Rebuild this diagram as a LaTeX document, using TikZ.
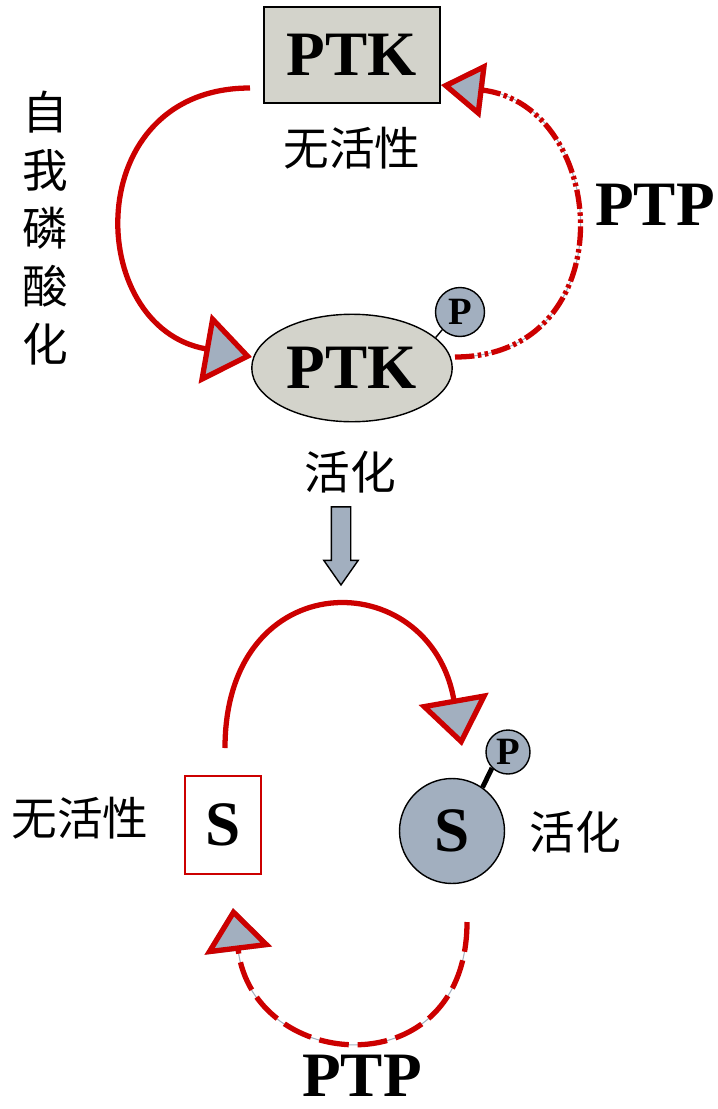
\documentclass[tikz,border=0pt]{standalone}
\usepackage{fontspec}
\setmainfont{Liberation Serif}
\newfontfamily\cjk{Noto Sans CJK SC}
\usetikzlibrary{arrows.meta,shapes.geometric,shapes.arrows}
\definecolor{darkred}{HTML}{CC0000}
\definecolor{bluegray}{HTML}{A2AFBF}
\definecolor{beige}{HTML}{D3D3CB}

\begin{document}
\begin{tikzpicture}[x=0.02cm, y=-0.02cm,
    big/.style = {font=\fontsize{36}{40}\selectfont\bfseries},
    zh/.style = {font=\fontsize{26}{33}\selectfont\cjk},
    phos/.style = {draw, circle, fill=bluegray, inner sep=0pt, line width=0.8pt,
                   font=\fontsize{22}{24}\selectfont\bfseries},
    react/.style = {draw=darkred, line width=3pt,
                    -{Triangle[fill=bluegray, length=9.6mm, width=14mm]}},
    ptp/.style = {draw=darkred, line width=3pt,
                  -{Triangle[fill=bluegray, length=8.6mm, width=#1]},
                  preaction={draw=bluegray, line width=0.6pt, solid}}]
  \useasboundingbox (0,0) rectangle (717,1109);
  % upper cycle
  \node[big, draw, fill=beige, minimum width=35.2mm, minimum height=19.2mm, line width=0.8pt] (1) at (352,55) {PTK};
  \node[zh] (2) at (352,148) {无活性};
  \node[big, draw, ellipse, fill=beige, minimum width=35.2mm, minimum height=21.5mm, line width=0.8pt] (3) at (352,368) {PTK};
  \node[phos, minimum size=9.8mm] (4) at (460,312) {P};
  \node[zh, align=center] (5) at (45,228) {自\\我\\磷\\酸\\化};
  \node[big] (6) at (655,205) {PTP};
  \node[zh] (7) at (350,472) {活化};
  \node[single arrow, draw, fill=bluegray, rotate=-90, line width=0.8pt, inner sep=0pt, inner ysep=1.8mm,
        minimum height=15.6mm, single arrow head extend=1.5mm, single arrow tip angle=70] (8) at (341,539) {};
  % lower cycle
  \node[big, draw=darkred, minimum width=15.2mm, minimum height=19.6mm, line width=0.8pt] (9) at (223,825) {S};
  \node[zh] (10) at (80,818) {无活性};
  \node[big, draw, circle, fill=bluegray, minimum size=21mm, inner sep=0pt, line width=0.8pt] (11) at (452,831) {S};
  \node[phos, minimum size=8.8mm] (12) at (508,752) {P};
  \node[zh] (13) at (575,832) {活化};
  \node[big] (14) at (362,1076) {PTP};
  \coordinate (a) at (250,88);
  \coordinate (b) at (252,357);
  \coordinate (c) at (455,357);
  \coordinate (d) at (441,85);
  \coordinate (e) at (225,748);
  \coordinate (f) at (462,746);
  \coordinate (g) at (467,922);
  \coordinate (h) at (233,908);
  \draw[line width=0.8pt] (4.225) -- (3.20);
  \draw[line width=2.8pt] (12.225) -- (11.55);
  \draw[react] (a) to[out=180, in=170, looseness=1.62] (b);
  \draw[ptp=11mm, dash pattern=on 11pt off 2pt on 2pt off 2pt on 2pt off 2pt] (c) to[out=0, in=-7, looseness=1.6] (d);
  \draw[react] (e) to[out=90, in=100, looseness=2.0] (f);
  \draw[ptp=13.4mm, dash pattern=on 17pt off 5pt] (g) to[out=-90, in=-83, looseness=1.82] (h);
\end{tikzpicture}
\end{document}
